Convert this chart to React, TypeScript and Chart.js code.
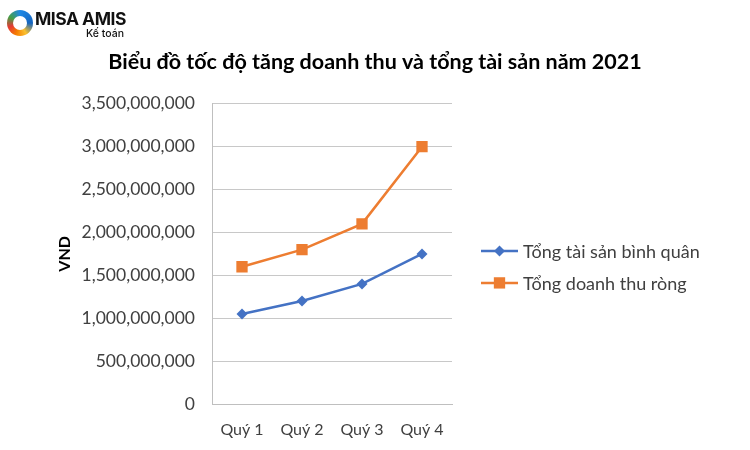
import React, { useEffect, useRef } from "react";
import { Chart, registerables, layouts } from "chart.js";

Chart.register(...registerables);

const categories = ["Quý 1", "Quý 2", "Quý 3", "Quý 4"];
const tongTaiSanBinhQuan = [1050000000, 1200000000, 1400000000, 1750000000];
const tongDoanhThuRong = [1600000000, 1800000000, 2100000000, 3000000000];
const seriesNames = ["Tổng tài sản bình quân", "Tổng doanh thu ròng"];
const yMin = 0;
const yMax = 3500000000;
const yStep = 500000000;
const titleText = "Biểu đồ tốc độ tăng doanh thu và tổng tài sản năm 2021";
const yAxisTitle = "VND";

const BLUE = "#4472C4";
const ORANGE = "#ED7D31";
const FONT = "Lato, 'Open Sans', sans-serif";
const LEGEND_WIDTH = 298;

const sideLegend = {
  id: "sideLegend",
  beforeInit(chart: any) {
    const box: any = {
      position: "right",
      weight: 100,
      fullSize: false,
      options: {},
      left: 0,
      top: 0,
      right: 0,
      bottom: 0,
      width: 0,
      height: 0,
      isHorizontal() {
        return false;
      },
      update(maxWidth: number, maxHeight: number) {
        this.width = LEGEND_WIDTH;
        this.height = maxHeight;
      },
      getPadding() {
        return { top: 0, left: 0, right: 0, bottom: 0 };
      },
      draw() {},
    };
    layouts.addBox(chart, box);
  },
  afterDraw(chart: any) {
    const { ctx, chartArea } = chart;
    const x0 = chartArea.right + 29;
    const cy = (chartArea.top + chartArea.bottom) / 2;
    chart.data.datasets.forEach((ds: any, i: number) => {
      const y = cy - 3 + i * 32;
      ctx.save();
      ctx.strokeStyle = ds.borderColor;
      ctx.lineWidth = ds.borderWidth;
      ctx.beginPath();
      ctx.moveTo(x0, y);
      ctx.lineTo(x0 + 37, y);
      ctx.stroke();
      ctx.fillStyle = ds.backgroundColor;
      const mx = x0 + 18.5;
      if (ds.pointStyle === "rectRot") {
        const r = ds.pointRadius;
        ctx.beginPath();
        ctx.moveTo(mx, y - r);
        ctx.lineTo(mx + r, y);
        ctx.lineTo(mx, y + r);
        ctx.lineTo(mx - r, y);
        ctx.closePath();
        ctx.fill();
      } else {
        const s = ds.pointRadius * Math.SQRT1_2;
        ctx.fillRect(mx - s, y - s, 2 * s, 2 * s);
      }
      ctx.fillStyle = "#404040";
      ctx.font = `18px ${FONT}`;
      ctx.textBaseline = "middle";
      ctx.textAlign = "left";
      ctx.fillText(ds.label, x0 + 42, y + 1);
      ctx.restore();
    });
  },
};

export default function App() {
  const canvasRef = useRef<HTMLCanvasElement | null>(null);

  useEffect(() => {
    const canvas = canvasRef.current;
    if (!canvas) return;
    const chart = new Chart(canvas, {
      type: "line",
      data: {
        labels: categories,
        datasets: [
          {
            label: seriesNames[0],
            data: tongTaiSanBinhQuan,
            borderColor: BLUE,
            backgroundColor: BLUE,
            borderWidth: 2.5,
            pointStyle: "rectRot",
            pointRadius: 5.5,
            pointHoverRadius: 5.5,
            pointBorderWidth: 0,
            tension: 0,
          },
          {
            label: seriesNames[1],
            data: tongDoanhThuRong,
            borderColor: ORANGE,
            backgroundColor: ORANGE,
            borderWidth: 2.5,
            pointStyle: "rect",
            pointRadius: 8,
            pointHoverRadius: 8,
            pointBorderWidth: 0,
            tension: 0,
          },
        ],
      },
      options: {
        responsive: false,
        animation: false,
        layout: { padding: 0 },
        plugins: {
          legend: { display: false },
          tooltip: { enabled: false },
          title: {
            display: true,
            fullSize: true,
            text: titleText,
            color: "#000000",
            font: { family: FONT, size: 21.5, weight: "bold" },
            padding: { top: 49, bottom: 29 },
          },
        },
        scales: {
          x: {
            offset: true,
            grid: { display: false, drawTicks: false },
            border: { display: true, color: "#BFBFBF", width: 1 },
            ticks: {
              color: "#404040",
              font: { family: FONT, size: 16 },
              padding: 16,
            },
            afterFit: (s: any) => {
              s.height = 46;
            },
          },
          y: {
            min: yMin,
            max: yMax,
            ticks: {
              stepSize: yStep,
              color: "#404040",
              font: { family: FONT, size: 17.5 },
              padding: 17,
              callback: (v: any) => Number(v).toLocaleString("en-US"),
            },
            grid: { color: "#C8C8C8", lineWidth: 1, drawTicks: false },
            border: { display: true, color: "#BFBFBF", width: 1 },
            title: {
              display: true,
              text: yAxisTitle,
              color: "#000000",
              font: { family: FONT, size: 16, weight: "bold" },
              padding: { top: 55, bottom: 0 },
            },
            afterFit: (s: any) => {
              s.width = 212;
            },
          },
        },
      },
      plugins: [sideLegend],
    });
    return () => chart.destroy();
  }, []);

  return (
    <div style={{ position: "fixed", left: 0, top: 0, width: 750, height: 450, background: "#fff" }}>
      <canvas ref={canvasRef} width={750} height={450} style={{ display: "block" }} />
      <div style={{ position: "absolute", left: 7, top: 10, width: 26, height: 26, borderRadius: "50%", background: "conic-gradient(from 0deg, #1E88E5 0deg, #1565C0 90deg, #FBC02D 150deg, #F57C00 200deg, #E53935 250deg, #43A047 300deg, #1E88E5 360deg)" }}>
        <div style={{ position: "absolute", left: 6, top: 6, width: 14, height: 14, borderRadius: "50%", background: "#fff" }} />
      </div>
      <div style={{ position: "absolute", left: 35, top: 9, fontFamily: "Inter, Roboto, sans-serif", fontWeight: 700, fontSize: 17.5, letterSpacing: -0.5, color: "#111", lineHeight: "20px", whiteSpace: "nowrap" }}>MISA AMIS</div>
      <div style={{ position: "absolute", left: 86, top: 28, fontFamily: "Inter, Roboto, sans-serif", fontWeight: 500, fontSize: 10.5, color: "#111", lineHeight: "12px", whiteSpace: "nowrap" }}>Kế toán</div>
    </div>
  );
}
